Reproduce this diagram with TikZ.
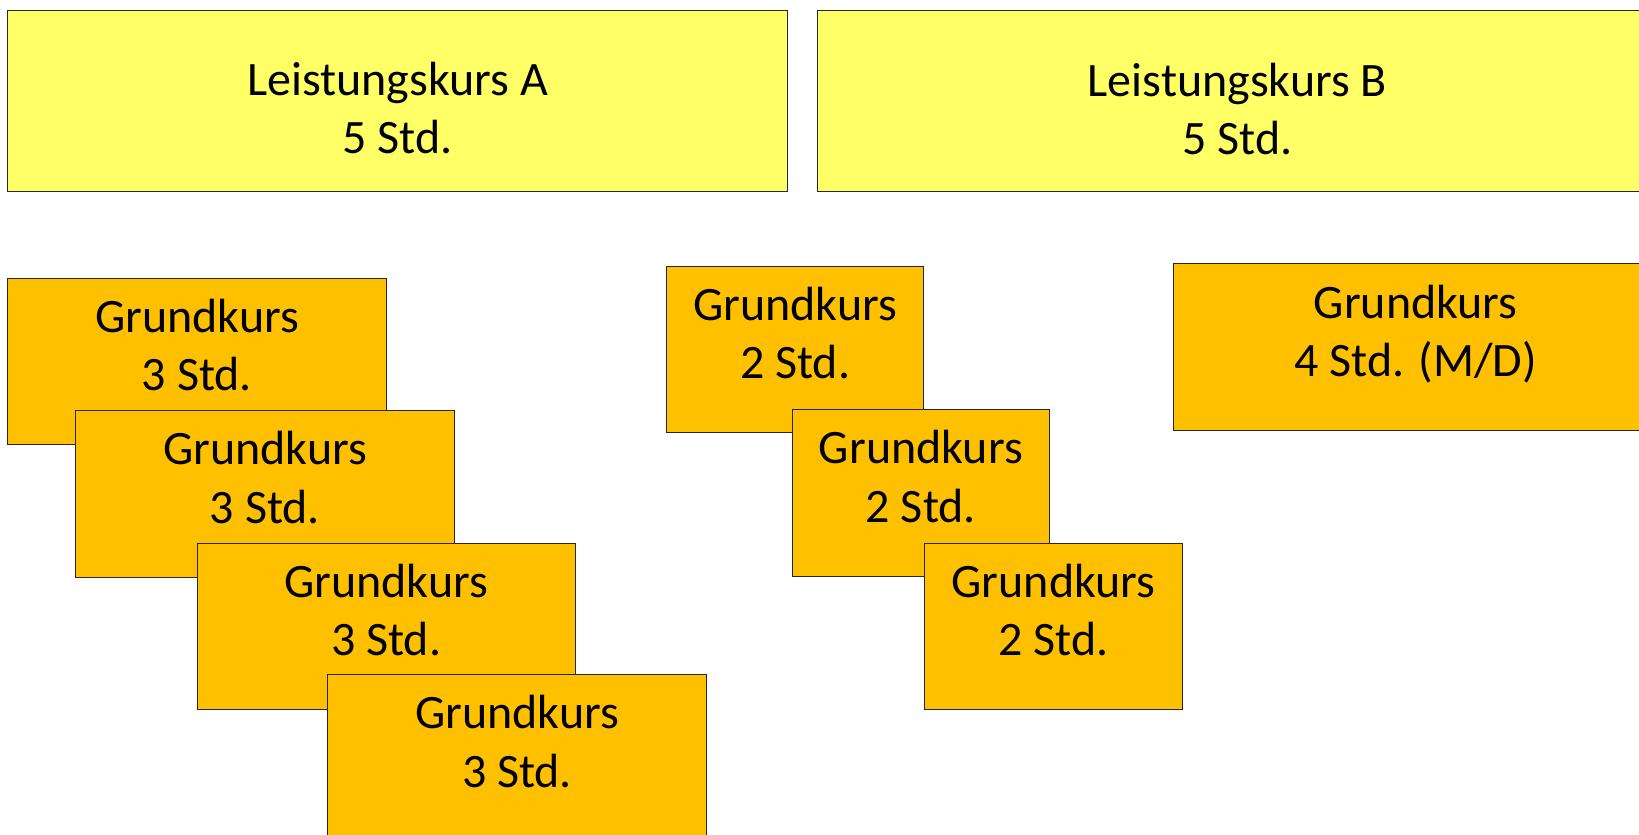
\documentclass[tikz,border=0pt]{standalone}
\usepackage{fontspec}
\setmainfont{Carlito}
\definecolor{lkyellow}{HTML}{FFFF66}
\definecolor{gkorange}{HTML}{FFC000}

\begin{document}
\begin{tikzpicture}[x=1pt,y=-1pt,
    kurs/.style={draw=black!85, line width=1pt, inner sep=0pt, anchor=north west},
    lk/.style={kurs, fill=lkyellow, minimum height=181pt},
    gk/.style={kurs, fill=gkorange, minimum height=166.5pt},
    kurstext/.style={font=\fontsize{48}{58.2}\selectfont, align=center, inner sep=0pt,
        execute at begin node=\vphantom{(}, execute at end node=\vphantom{(}},
    ]
    \useasboundingbox (0,0) rectangle (1639,835);

    % Leistungskurse
    \node [lk, minimum width=779.7pt, label={[kurstext,yshift=-11pt]center:{Leistungskurs A\\5 Std.}}] (lka) at (7.3,9.5) {};
    \node [lk, minimum width=840.3pt, label={[kurstext,yshift=-11pt]center:{Leistungskurs B\\5 Std.}}] (lkb) at (816.7,10) {};

    % Grundkurse 3 Std.
    \node [gk, minimum width=378.5pt, label={[kurstext,yshift=13pt]center:{Grundkurs\\3 Std.}}] (gk31) at (7.3,277.7) {};
    \node [gk, minimum width=378.5pt, label={[kurstext,yshift=13pt]center:{Grundkurs\\3 Std.}}] (gk32) at (75.3,410) {};
    \node [gk, minimum width=378.5pt, label={[kurstext,yshift=13pt]center:{Grundkurs\\3 Std.}}] (gk33) at (196.5,542.7) {};
    \node [gk, minimum width=378.5pt, label={[kurstext,yshift=13pt]center:{Grundkurs\\3 Std.}}] (gk34) at (327.3,674) {};

    % Grundkurse 2 Std.
    \node [gk, minimum width=257.3pt, label={[kurstext,yshift=13pt]center:{Grundkurs\\2 Std.}}] (gk21) at (666,265.7) {};
    \node [gk, minimum width=257.3pt, label={[kurstext,yshift=13pt]center:{Grundkurs\\2 Std.}}] (gk22) at (791.7,409) {};
    \node [gk, minimum width=257.3pt, label={[kurstext,yshift=13pt]center:{Grundkurs\\2 Std.}}] (gk23) at (924.3,542.7) {};

    % Grundkurs 4 Std.
    \node [gk, minimum width=483.7pt, label={[kurstext,yshift=13pt]center:{Grundkurs\\4 Std. (M/D)}}] (gk4) at (1173.3,263.3) {};
\end{tikzpicture}
\end{document}
